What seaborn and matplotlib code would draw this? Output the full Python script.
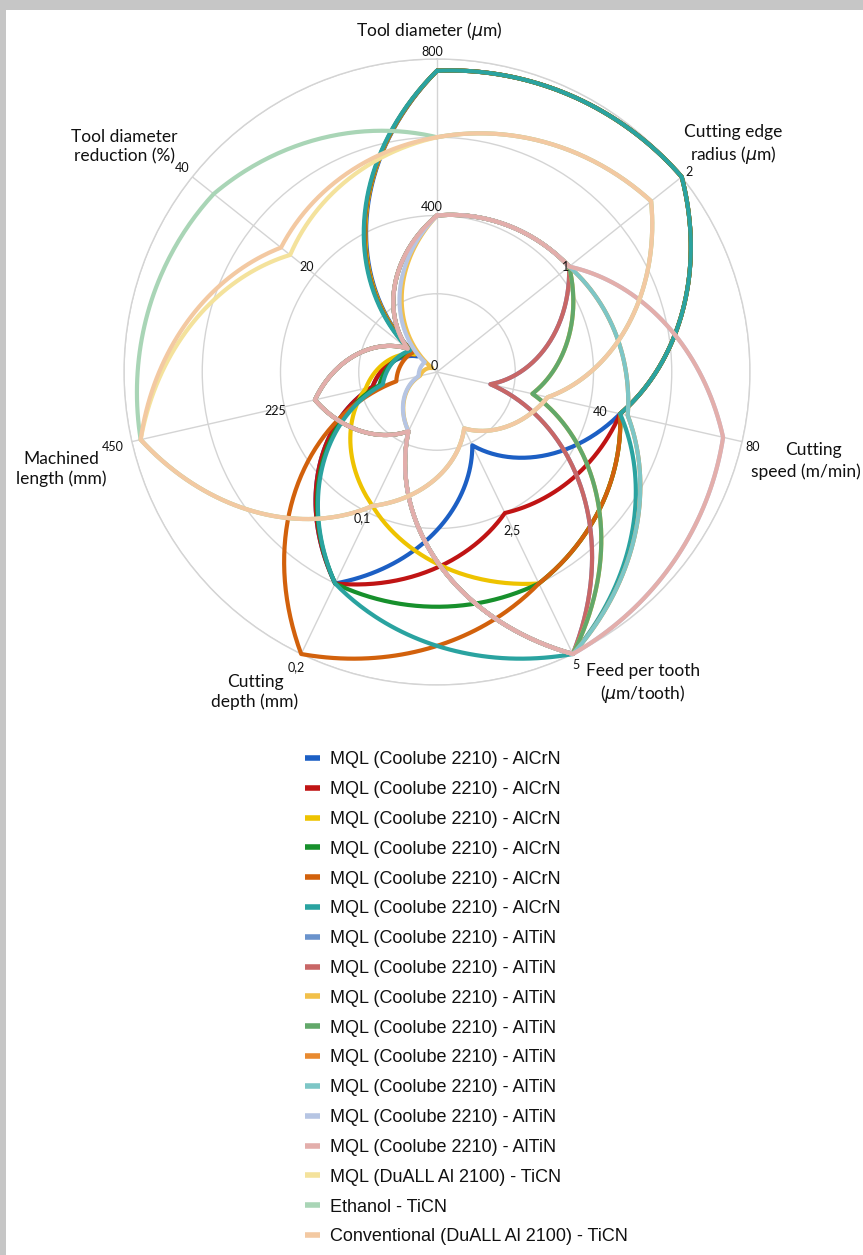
import numpy as np
import matplotlib
matplotlib.use("Agg")
import matplotlib.pyplot as plt
from matplotlib.lines import Line2D
from matplotlib.patches import Rectangle
import seaborn as sns

# ---- axes of the radar (clockwise from the top) ----
axis_titles = [
    "Tool diameter ($\\mu$m)",
    "Cutting edge\nradius ($\\mu$m)",
    "Cutting\nspeed (m/min)",
    "Feed per tooth\n($\\mu$m/tooth)",
    "Cutting\ndepth (mm)",
    "Machined\nlength (mm)",
    "Tool diameter\nreduction (%)",
]
axis_max = [800, 2, 80, 5, 0.2, 450, 40]
axis_half_labels = ["400", "1", "40", "2,5", "0,1", "225", "20"]
axis_max_labels = ["800", "2", "80", "5", "0,2", "450", "40"]

# ---- series: tool diameter, edge radius, speed, feed, depth, length, reduction ----
s01 = [770, 2.0, 48, 1.3, 0.15, 95, 3.2]
s02 = [770, 2.0, 48, 2.5, 0.15, 95, 3.6]
s03 = [770, 2.0, 48, 3.75, 0.095, 105, 3.6]
s04 = [770, 2.0, 48, 3.75, 0.15, 85, 4.0]
s05 = [770, 2.0, 48, 3.75, 0.20, 60, 4.0]
s06 = [770, 2.0, 48, 5.0, 0.15, 80, 4.4]
s07 = [400, 1.08, 14, 5.0, 0.042, 180, 4.8]
s08 = [400, 1.08, 14, 5.0, 0.042, 180, 4.8]
s09 = [400, 1.08, 25, 5.0, 0.042, 25, 0.8]
s10 = [400, 1.08, 25, 5.0, 0.042, 180, 4.8]
s11 = [400, 1.08, 50, 5.0, 0.042, 180, 4.8]
s12 = [400, 1.08, 50, 5.0, 0.042, 180, 4.8]
s13 = [400, 1.08, 75, 5.0, 0.042, 27, 2.0]
s14 = [400, 1.08, 75, 5.0, 0.042, 180, 4.8]
s15 = [600, 1.75, 29, 1.0, 0.095, 437, 24.0]
s16 = [600, 1.75, 29, 1.0, 0.095, 437, 36.5]
s17 = [600, 1.75, 29, 1.0, 0.095, 437, 25.5]

series_values = [s01, s02, s03, s04, s05, s06, s07, s08, s09,
                 s10, s11, s12, s13, s14, s15, s16, s17]
series_labels = ["MQL (Coolube 2210) - AlCrN"] * 6 + \
                ["MQL (Coolube 2210) - AlTiN"] * 8 + \
                ["MQL (DuALL Al 2100) - TiCN", "Ethanol - TiCN",
                 "Conventional (DuALL Al 2100) - TiCN"]
series_colors = ["#1c5fc4", "#c01414", "#eec300", "#17902c", "#d2610c", "#2aa3a0",
                 "#6a93cc", "#c86666", "#f2c04a", "#62a86a", "#e88a30", "#7dc6c6",
                 "#b6c5e3", "#e3aeab", "#f4e29c", "#a9d5b6", "#f3c9a2"]

W, H = 863, 1255
fig = plt.figure(figsize=(W / 100, H / 100), dpi=100)
sns.set_theme(style="white")
plt.rcParams["font.family"] = ["Lato", "DejaVu Sans"]
plt.rcParams["mathtext.fontset"] = "dejavusans"

def fx(px):
    return px / W

def fy(py):
    return 1 - py / H

# card with a soft grey edge
fig.patch.set_facecolor("#c6c6c6")
for i, a in enumerate([0.25, 0.45, 0.65, 0.85, 1.0]):
    off = 4 - i
    fig.add_artist(Rectangle((fx(6 + off * 1.5), 0), 1, fy(10 + off * 1.5),
                             transform=fig.transFigure, facecolor="white",
                             edgecolor="none", alpha=a, zorder=-10))
fig.add_artist(Rectangle((fx(12), 0), 1, fy(18), transform=fig.transFigure,
                         facecolor="white", edgecolor="none", zorder=-9))

# polar axes
cx, cy, R = 437, 372, 313
ax = fig.add_axes([fx(cx - R), fy(cy + R), 2 * R / W, 2 * R / H], projection="polar")
ax.set_facecolor("none")
ax.set_theta_zero_location("N")
ax.set_theta_direction(-1)

n = len(axis_max)
angles = np.arange(n) * 2 * np.pi / n
theta = np.append(angles, 2 * np.pi)

for vals, col in zip(series_values, series_colors):
    r = np.array(vals, dtype=float) / np.array(axis_max, dtype=float)
    r = np.append(r, r[0])
    sns.lineplot(x=theta, y=r, ax=ax, sort=False, estimator=None,
                 color=col, lw=3.0, clip_on=False, zorder=3)

# segments follow the polar coordinates (spiral arcs between spokes)
for ln in ax.lines:
    ln.get_path()._interpolation_steps = 80

ax.set_ylim(0, 1)
ax.set_rgrids([0.25, 0.5, 0.75, 1.0], labels=[])
ax.set_thetagrids(np.degrees(angles), labels=[])
ax.grid(True, color="#d4d4d4", lw=1.0)
ax.spines["polar"].set_color("#d4d4d4")
ax.spines["polar"].set_linewidth(1.0)
ax.set_xlabel("")
ax.set_ylabel("")

# value labels on the spokes
tick_pos_half = [(432, 207), (566, 267), (600, 412), (512, 530),
                 (362, 518), (275, 411), (307, 267)]
tick_pos_max = [(432, 52), (689, 172), (753, 447), (576, 665),
                (296, 667), (113, 447), (182, 168)]
for lab, (px, py) in zip(axis_half_labels, tick_pos_half):
    fig.text(fx(px), fy(py), lab, ha="center", va="center", fontsize=9, color="#111111")
for lab, (px, py) in zip(axis_max_labels, tick_pos_max):
    fig.text(fx(px), fy(py), lab, ha="center", va="center", fontsize=9, color="#111111")
fig.text(fx(434), fy(366), "0", ha="center", va="center", fontsize=9, color="#111111", zorder=0)

# spoke titles
title_pos = [(429, 31), (733, 145), None, (643, 684),
             (255, 692), (61, 469), (124, 147)]
for lab, pos in zip(axis_titles, title_pos):
    if pos is None:
        continue
    px, py = pos
    fig.text(fx(px), fy(py), lab, ha="center", va="center", fontsize=12.5,
             color="#111111", linespacing=1.25)
# the cutting-speed title sits against the right edge
speed_top, speed_bottom = axis_titles[2].split("\n")
fig.text(fx(813), fy(450), speed_top, ha="center", va="center", fontsize=12.5, color="#111111")
fig.text(fx(861), fy(472), speed_bottom, ha="right", va="center", fontsize=12.5, color="#111111")

# legend
handles = [Line2D([0], [0], color=c, lw=4, solid_capstyle="butt") for c in series_colors]
leg = fig.legend(handles, series_labels, loc="upper left",
                 bbox_to_anchor=(fx(298), fy(744)), frameon=False,
                 handlelength=0.8, handletextpad=0.55, labelspacing=0.71,
                 prop={"family": "Liberation Sans", "size": 13}, borderaxespad=0)
for t in leg.get_texts():
    t.set_color("#111111")

fig.savefig("out.png", dpi=100, facecolor=fig.get_facecolor())
